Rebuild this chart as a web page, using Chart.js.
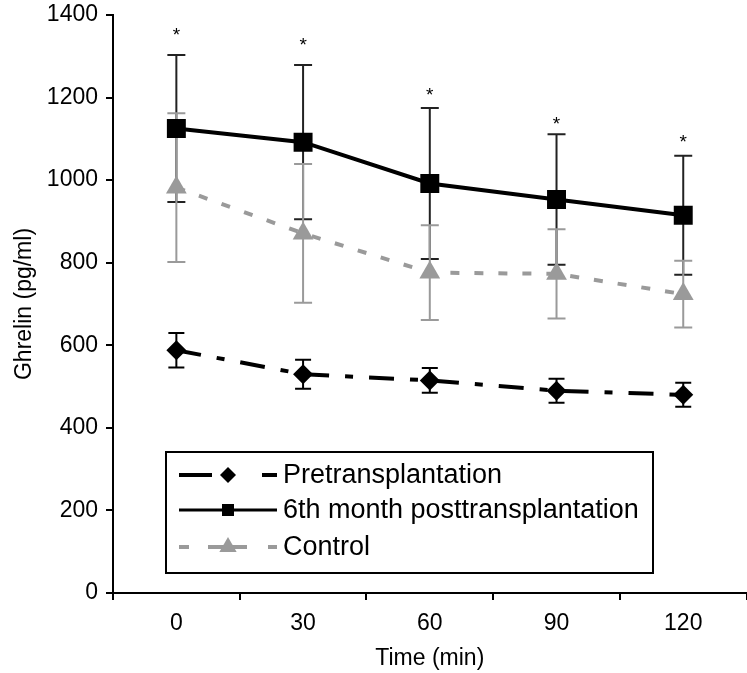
<!DOCTYPE html>
<html>
<head>
<meta charset="utf-8">
<script src="https://cdn.jsdelivr.net/npm/chart.js@4.4.0/dist/chart.umd.min.js"></script>
<style>
  html, body { margin: 0; padding: 0; background: #fff; overflow: hidden; }
  canvas { display: block; }
</style>
</head>
<body>
<canvas id="chart" width="760" height="673"></canvas>
<script>
// ---------- Data ----------
const timeLabels = ["0", "30", "60", "90", "120"];

const preMean = [588, 530, 515, 490, 480];
const preErr = [42, 35, 30, 29, 29];

const postMean = [1125, 1092, 992, 953, 915];
const postErr = [178, 187, 183, 158, 144];

const ctrlMean = [982, 871, 776, 773, 724];
const ctrlErr = [180, 168, 115, 108, 81];

// asterisks over the posttransplantation bars
const starAt = [1360, 1335, 1215, 1145, 1100];

const FONT = "'Liberation Sans', Arial, Helvetica, sans-serif";
const GRAY = "#9a9a9a";

// ---------- Plugins ----------
const errorBars = {
  id: "errorBars",
  beforeDatasetsDraw(chart) {
    const { ctx, scales: { y } } = chart;
    chart.data.datasets.forEach((ds, i) => {
      if (!ds.errors) return;
      const meta = chart.getDatasetMeta(i);
      ctx.save();
      ctx.strokeStyle = ds.errColor;
      ctx.lineWidth = 2;
      ctx.setLineDash([]);
      meta.data.forEach((pt, j) => {
        const top = y.getPixelForValue(ds.data[j] + ds.errors[j]);
        const bot = y.getPixelForValue(ds.data[j] - ds.errors[j]);
        const cap = ds.capHalf;
        ctx.beginPath();
        ctx.moveTo(pt.x, top); ctx.lineTo(pt.x, bot);
        ctx.moveTo(pt.x - cap, top); ctx.lineTo(pt.x + cap, top);
        ctx.moveTo(pt.x - cap, bot); ctx.lineTo(pt.x + cap, bot);
        ctx.stroke();
      });
      ctx.restore();
    });
  },
  afterDatasetsDraw(chart) {
    const { ctx, scales: { x, y } } = chart;
    ctx.save();
    ctx.fillStyle = "#000";
    ctx.font = "19px " + FONT;
    ctx.textAlign = "center";
    ctx.textBaseline = "middle";
    starAt.forEach((v, i) => {
      ctx.fillText("*", x.getPixelForValue(i), y.getPixelForValue(v) + 4);
    });
    ctx.restore();
  },
};

// boxed legend with line samples, as in the original figure
const boxLegend = {
  id: "boxLegend",
  afterDraw(chart) {
    const { ctx, chartArea } = chart;
    const left = chartArea.left + 53, top = chartArea.top + 437;
    const w = 487, h = 121;
    ctx.save();
    ctx.fillStyle = "#fff";
    ctx.fillRect(left, top, w, h);
    ctx.strokeStyle = "#000";
    ctx.lineWidth = 2;
    ctx.strokeRect(left, top, w, h);

    const rows = [23, 58, 95];
    chart.data.datasets.forEach((ds, i) => {
      const yy = top + rows[i];
      const x0 = left + 13, x1 = left + 111, xm = left + 62;
      ctx.strokeStyle = ds.borderColor;
      ctx.lineWidth = ds.legendWidth;
      ctx.setLineDash(ds.legendDash);
      ctx.beginPath();
      ctx.moveTo(x0, yy); ctx.lineTo(x1, yy);
      ctx.stroke();
      ctx.setLineDash([]);
      ctx.fillStyle = ds.pointBackgroundColor;
      Chart.helpers.drawPoint(ctx, {
        pointStyle: ds.pointStyle, radius: ds.legendRadius, rotation: 0, borderWidth: 0,
      }, xm, yy);
      ctx.fillStyle = "#000";
      ctx.font = "27px " + FONT;
      ctx.textAlign = "left";
      ctx.textBaseline = "middle";
      ctx.fillText(ds.label, left + 117, yy + 1);
    });
    ctx.restore();
  },
};

// ---------- Chart ----------
new Chart(document.getElementById("chart"), {
  type: "line",
  data: {
    labels: timeLabels,
    datasets: [
      {
        label: "Pretransplantation",
        data: preMean, errors: preErr, errColor: "#000", capHalf: 8,
        borderColor: "#000", borderWidth: 4, borderDash: [25, 16, 8, 16],
        pointStyle: "rectRot", pointRadius: 10, pointBackgroundColor: "#000",
        pointBorderWidth: 0, legendWidth: 4, legendDash: [33, 50, 15, 10], legendRadius: 8,
      },
      {
        label: "6th month posttransplantation",
        data: postMean, errors: postErr, errColor: "#222", capHalf: 9,
        borderColor: "#000", borderWidth: 4, borderDash: [],
        pointStyle: "rect", pointRadius: 13.4, pointBackgroundColor: "#000",
        pointBorderWidth: 0, legendWidth: 3, legendDash: [], legendRadius: 8.5,
      },
      {
        label: "Control",
        data: ctrlMean, errors: ctrlErr, errColor: GRAY, capHalf: 9,
        borderColor: GRAY, borderWidth: 4, borderDash: [9, 15],
        pointStyle: "triangle", pointRadius: 12, pointBackgroundColor: GRAY,
        pointBorderWidth: 0, legendWidth: 4, legendDash: [10, 19, 39, 21, 9], legendRadius: 10,
      },
    ],
  },
  options: {
    responsive: false,
    animation: false,
    devicePixelRatio: 1,
    layout: { padding: { top: 15, right: 7, left: 0, bottom: 0 } },
    plugins: { legend: { display: false }, tooltip: { enabled: false } },
    elements: { line: { tension: 0 } },
    scales: {
      x: {
        offset: true,
        grid: { offset: true, drawOnChartArea: false, tickLength: 7, color: "#000", lineWidth: 2 },
        border: { color: "#000", width: 2 },
        ticks: { color: "#000", font: { family: FONT, size: 23 }, padding: 10, maxRotation: 0 },
        title: { display: true, text: "Time (min)", color: "#000",
                 font: { family: FONT, size: 23 }, padding: { top: 0, bottom: 1 } },
        afterFit(scale) {
          scale.height = 80;
          scale.paddingLeft = 0; scale.paddingRight = 0;
        },
      },
      y: {
        min: 0, max: 1400,
        grid: { drawOnChartArea: false, tickLength: 7, color: "#000", lineWidth: 2 },
        border: { color: "#000", width: 2 },
        ticks: { stepSize: 200, color: "#000", font: { family: FONT, size: 23 }, padding: 8,
                 callback: (v) => String(v) },
        title: { display: true, text: "Ghrelin (pg/ml)", color: "#000",
                 font: { family: FONT, size: 23 }, padding: { top: 11, bottom: 0 } },
        afterFit(scale) {
          scale.width = 113;
          scale.paddingTop = 0; scale.paddingBottom = 0;
        },
      },
    },
  },
  plugins: [errorBars, boxLegend],
});
</script>
</body>
</html>
